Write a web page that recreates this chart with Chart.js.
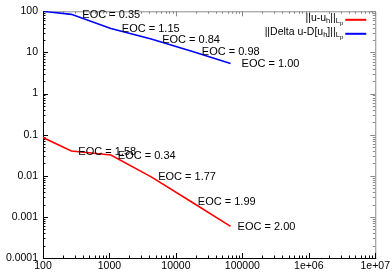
<!DOCTYPE html>
<html>
<head>
<meta charset="utf-8">
<script src="https://cdn.jsdelivr.net/npm/chart.js@4/dist/chart.umd.min.js"></script>
<style>
  html, body { margin: 0; padding: 0; background: #fff; }
  #wrap { width: 392px; height: 274px; }
</style>
</head>
<body>
<div id="wrap"><canvas id="errChart"></canvas></div>
<script>
// degrees of freedom per refinement level
const dofs = [100, 267, 1050, 4250, 16800, 66500];
// ||u - u_h||_Lp
const errU = [0.085, 0.040, 0.032, 0.0094, 0.00236, 0.00059];
// ||Delta u - D[u_h]||_Lp
const errDelta = [100, 84.3, 38.0, 21.2, 10.8, 5.38];
// EOC labels, one per refinement step (placed at the finer point)
const eocU = ['1.58', '0.34', '1.77', '1.99', '2.00'];
const eocDelta = ['0.35', '1.15', '0.84', '0.98', '1.00'];

const xTicks = [100, 1000, 10000, 100000, 1e6, 1e7];
const xTickLabels = ['100', '1000', '10000', '100000', '1e+06', '1e+07'];
const yTicks = [0.0001, 0.001, 0.01, 0.1, 1, 10, 100];
const yTickLabels = ['0.0001', '0.001', '0.01', '0.1', '1', '10', '100'];

// legend text pieces: [text, subscript level]
const legendU = [['||u-u', 0], ['h', 1], ['||', 0], ['L', 1], ['p', 2]];
const legendDelta = [['||Delta u-D[u', 0], ['h', 1], [']||', 0], ['L', 1], ['p', 2]];

const FONT = '"Liberation Sans", Arial, sans-serif';

function minorValues(majors) {
    const out = [];
    for (let i = 0; i < majors.length - 1; i++) {
        for (let k = 2; k <= 9; k++) out.push(majors[i] * k);
    }
    return out;
}

const framePlugin = {
    id: 'frame',
    beforeDatasetsDraw(chart) {
        const { ctx, chartArea: a, scales: { x, y } } = chart;
        ctx.save();
        ctx.lineWidth = 1;
        // top + right in gray
        ctx.strokeStyle = '#8c8c8c';
        ctx.beginPath();
        ctx.moveTo(a.left, a.top + 0.5); ctx.lineTo(a.right + 0.5, a.top + 0.5);
        ctx.lineTo(a.right + 0.5, a.bottom);
        ctx.stroke();
        // ticks, inward, on all four sides
        const tick = (vals, len, axis) => {
            vals.forEach(v => {
                if (axis === 'x') {
                    const px = Math.round(x.getPixelForValue(v)) + 0.5;
                    ctx.strokeStyle = '#000';
                    ctx.beginPath(); ctx.moveTo(px, a.bottom); ctx.lineTo(px, a.bottom - len); ctx.stroke();
                    ctx.strokeStyle = '#8c8c8c';
                    ctx.beginPath(); ctx.moveTo(px, a.top); ctx.lineTo(px, a.top + len); ctx.stroke();
                } else {
                    const py = Math.round(y.getPixelForValue(v)) + 0.5;
                    ctx.strokeStyle = '#000';
                    ctx.beginPath(); ctx.moveTo(a.left, py); ctx.lineTo(a.left + len, py); ctx.stroke();
                    ctx.strokeStyle = '#8c8c8c';
                    ctx.beginPath(); ctx.moveTo(a.right, py); ctx.lineTo(a.right - len, py); ctx.stroke();
                }
            });
        };
        tick(xTicks, 5, 'x');
        tick(minorValues(xTicks), 2.5, 'x');
        tick(yTicks, 5, 'y');
        tick(minorValues(yTicks), 2.5, 'y');
        // left + bottom in black
        ctx.strokeStyle = '#000';
        ctx.beginPath();
        ctx.moveTo(a.left + 0.5, a.top); ctx.lineTo(a.left + 0.5, a.bottom + 0.5);
        ctx.lineTo(a.right + 1, a.bottom + 0.5);
        ctx.stroke();
        ctx.restore();
    },
    afterDatasetsDraw(chart) {
        const { ctx, chartArea: a, scales: { x, y } } = chart;
        ctx.save();
        // EOC labels
        ctx.font = '11px ' + FONT;
        ctx.fillStyle = '#000';
        ctx.textAlign = 'left';
        ctx.textBaseline = 'middle';
        chart.data.datasets.forEach(ds => {
            ds.eoc.forEach((t, i) => {
                const px = x.getPixelForValue(dofs[i + 1]) + ds.labelOffset;
                const py = y.getPixelForValue(ds.data[i + 1].y) + 0.5;
                ctx.fillText('EOC = ' + t, px, py);
            });
        });
        // legend, right aligned with sample line
        const sizes = [10.5, 7.5, 6];
        const drops = [0, 3, 5];
        const drawRich = (parts, xr, yc) => {
            let w = 0;
            parts.forEach(([t, l]) => { ctx.font = sizes[l] + 'px ' + FONT; w += ctx.measureText(t).width; });
            let cx = xr - w;
            ctx.textAlign = 'left';
            ctx.textBaseline = 'middle';
            parts.forEach(([t, l]) => {
                ctx.font = sizes[l] + 'px ' + FONT;
                ctx.fillText(t, cx, yc + drops[l]);
                cx += ctx.measureText(t).width;
            });
        };
        chart.data.datasets.forEach((ds, i) => {
            const yc = a.top + 8 + i * 14;
            drawRich(ds.legendParts, a.right - 32, yc - 1);
            ctx.strokeStyle = ds.borderColor;
            ctx.lineWidth = 2;
            ctx.beginPath();
            ctx.moveTo(a.right - 30, yc + 0.5);
            ctx.lineTo(a.right - 9, yc + 0.5);
            ctx.stroke();
        });
        ctx.restore();
    }
};

const ctx = document.getElementById('errChart').getContext('2d');

new Chart(ctx, {
    type: 'line',
    data: {
        datasets: [{
            label: '||u-u_h||_{L_p}',
            data: dofs.map((d, i) => ({ x: d, y: errU[i] })),
            borderColor: '#ff0000',
            borderWidth: 1.6,
            pointRadius: 0,
            tension: 0,
            eoc: eocU,
            labelOffset: 7,
            legendParts: legendU
        }, {
            label: '||Delta u-D[u_h]||_{L_p}',
            data: dofs.map((d, i) => ({ x: d, y: errDelta[i] })),
            borderColor: '#0000ff',
            borderWidth: 1.6,
            pointRadius: 0,
            tension: 0,
            eoc: eocDelta,
            labelOffset: 11,
            legendParts: legendDelta
        }]
    },
    options: {
        responsive: true,
        maintainAspectRatio: false,
        animation: false,
        layout: { padding: { top: 9, right: 15, left: 0, bottom: 0 } },
        plugins: {
            legend: { display: false },
            tooltip: { enabled: false }
        },
        scales: {
            x: {
                type: 'logarithmic',
                min: 100,
                max: 1e7,
                border: { display: false },
                grid: { display: false, drawTicks: false },
                afterBuildTicks: s => { s.ticks = xTicks.map(v => ({ value: v })); },
                afterFit: s => { s.height = 16; },
                ticks: {
                    autoSkip: false,
                    maxRotation: 0,
                    padding: 2,
                    color: '#000',
                    font: { family: FONT, size: 10.5 },
                    callback: (v, i) => xTickLabels[i]
                }
            },
            y: {
                type: 'logarithmic',
                min: 0.0001,
                max: 100,
                border: { display: false },
                grid: { display: false, drawTicks: false },
                afterBuildTicks: s => { s.ticks = yTicks.map(v => ({ value: v })); },
                afterFit: s => { s.width = 43; },
                ticks: {
                    autoSkip: false,
                    padding: 5,
                    color: '#000',
                    font: { family: FONT, size: 10.5 },
                    callback: (v, i) => yTickLabels[i]
                }
            }
        }
    },
    plugins: [framePlugin]
});
</script>
</body>
</html>
